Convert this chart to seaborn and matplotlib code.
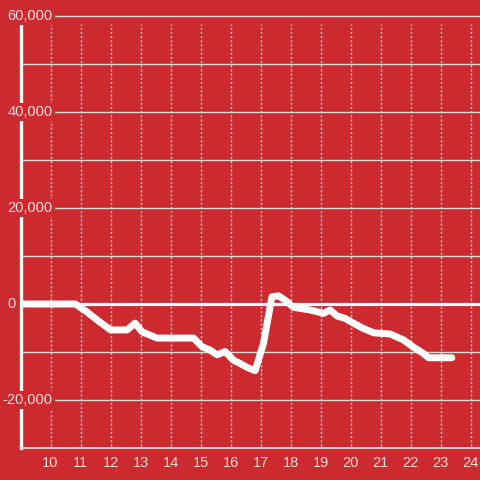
import matplotlib
matplotlib.use("Agg")
import matplotlib.pyplot as plt
import seaborn as sns
import pandas as pd

# hour of day and running value
hours = [9.0, 10.0, 10.83, 11.2, 11.55, 12.0, 12.55, 12.82, 13.05, 13.55, 14.77,
         15.05, 15.32, 15.55, 15.82, 16.1, 16.32, 16.55, 16.82, 17.1, 17.38, 17.6,
         17.82, 18.1, 18.66, 19.1, 19.32, 19.55, 19.82, 20.1, 20.43, 20.77, 21.32,
         21.77, 22.1, 22.43, 22.6, 23.38]
values = [0, 0, 0, -1600, -3300, -5400, -5400, -4000, -5800, -7100, -7100,
          -8900, -9600, -10600, -9900, -11700, -12400, -13200, -13900, -8200, 1500, 1700,
          800, -700, -1250, -1950, -1250, -2500, -3000, -4000, -5100, -6000, -6250,
          -7500, -9000, -10300, -11200, -11200]
x_ticks = list(range(10, 25))
y_labels = [60000, 40000, 20000, 0, -20000]

df = pd.DataFrame({"hour": hours, "value": values})

bg = "#cc2a2f"
txt = "#f6dcdc"
grid = "#d9d9d9"

sns.set_style("white")
plt.rcParams["font.family"] = ["Liberation Sans", "DejaVu Sans"]

fig = plt.figure(figsize=(4.8, 4.8), dpi=100, facecolor=bg)
ax = fig.add_axes([20.5 / 480, 32 / 480, 1 - 20.5 / 480, 448 / 480])
ax.set_facecolor(bg)

ax.set_xlim(9, 9 + 459.5 / 30)
ax.set_ylim(-30000, 63333)

# grid
for v in range(-20000, 60001, 10000):
    ax.axhline(v, color=grid, lw=1, zorder=1)
ax.vlines(x_ticks, -29600, 58333, colors=grid, lw=1, linestyles=(0, (1.5, 1.5)), zorder=1)
ax.axhline(0, color="white", lw=2.3, zorder=2)

sns.lineplot(data=df, x="hour", y="value", ax=ax, color="white", lw=5,
             zorder=4, solid_joinstyle="round")

for s in ["top", "right"]:
    ax.spines[s].set_visible(False)
ax.spines["left"].set_color("white")
ax.spines["left"].set_linewidth(2.4)
ax.spines["left"].set_bounds(-30000, 58333)
ax.spines["bottom"].set_color(grid)
ax.spines["bottom"].set_linewidth(1.3)

ax.set_xticks(x_ticks)
ax.set_xticklabels([str(t) for t in x_ticks])
ax.tick_params(axis="x", length=0, pad=6, labelsize=10.5, labelcolor=txt)
ax.set_yticks([])
ax.set_xlabel("")
ax.set_ylabel("")

# y labels sit on a red box over the spine and grid
tr = ax.get_yaxis_transform()
for v in y_labels:
    xpos = (16 - 20.5) / 459.5 if v == 0 else (52.5 - 20.5) / 459.5
    ax.text(xpos, v, f"{v:,}", transform=tr, ha="right", va="center",
            fontsize=10.5, color=txt, zorder=5,
            bbox=dict(facecolor=bg, edgecolor="none", pad=1.5))

fig.savefig("out.png", dpi=100, facecolor=bg)
